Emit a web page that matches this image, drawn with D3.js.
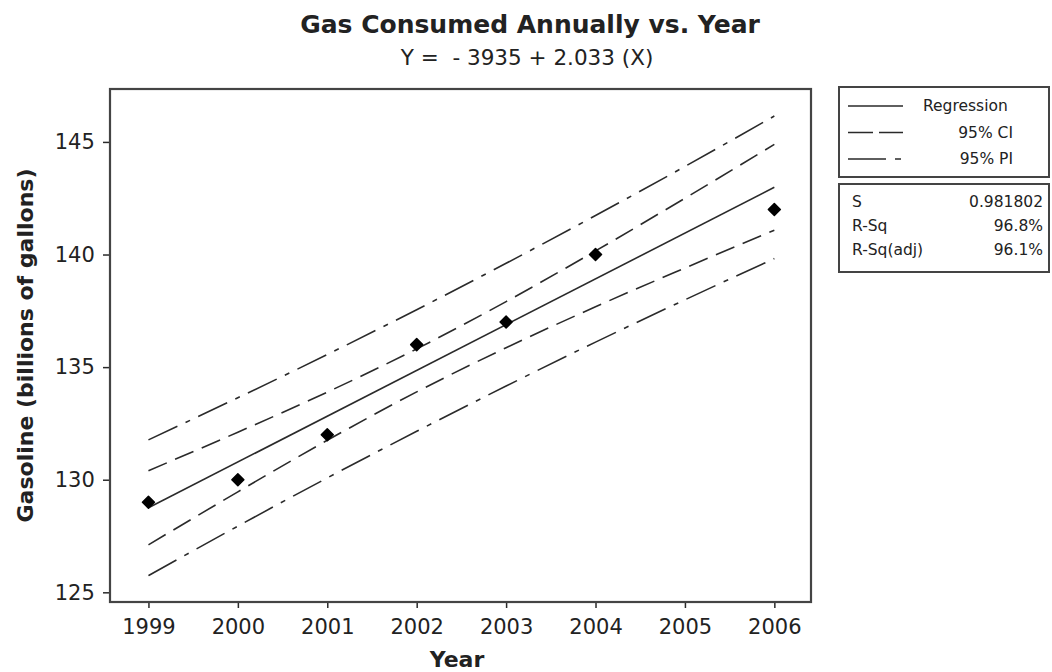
<!DOCTYPE html>
<html>
<head>
<meta charset="utf-8">
<script src="https://cdn.jsdelivr.net/npm/d3@7"></script>
<style>
  html, body { margin: 0; padding: 0; background: #fff; }
  svg { display: block; }
  text { font-family: "DejaVu Sans", sans-serif; fill: #222; }
</style>
</head>
<body>
<svg id="chart" width="1052" height="672"></svg>
<script>
// Observed gasoline consumption (billions of gallons) by year
const years = [1999, 2000, 2001, 2002, 2003, 2004, 2006];
const gasoline = [129, 130, 132, 136, 137, 140, 142];

// Fitted regression coefficients
const intercept = -3934.787;
const slope = 2.032787;

// Confidence and prediction band limits at each year
const bandYears = [1999, 2000, 2001, 2002, 2003, 2004, 2005, 2006];
const ciLower = [127.11, 129.46, 131.75, 133.90, 135.86, 137.68, 139.40, 141.08];
const ciUpper = [130.40, 132.11, 133.89, 135.81, 137.91, 140.16, 142.50, 144.89];
const piLower = [125.74, 127.94, 130.08, 132.15, 134.16, 136.11, 137.99, 139.82];
const piUpper = [131.77, 133.64, 135.56, 137.55, 139.61, 141.73, 143.91, 146.15];

// Axis ticks
const xTicks = [1999, 2000, 2001, 2002, 2003, 2004, 2005, 2006];
const yTicks = [125, 130, 135, 140, 145];

// Summary statistics
const statLabels = ["S", "R-Sq", "R-Sq(adj)"];
const statValues = ["0.981802", "96.8%", "96.1%"];
const legendLabels = ["Regression", "95% CI", "95% PI"];

const svg = d3.select("#chart");
const plot = { left: 110, right: 811, top: 89, bottom: 602 };
const ink = "#2a2a2a";

const x = d3.scaleLinear().domain([1998.57, 2006.41]).range([plot.left, plot.right]);
const y = d3.scaleLinear().domain([124.57, 147.35]).range([plot.bottom, plot.top]);

// Titles
svg.append("text").attr("x", 530).attr("y", 33).attr("text-anchor", "middle")
  .attr("font-size", 25).attr("font-weight", "bold").attr("fill", "#111")
  .text("Gas Consumed Annually vs. Year");
svg.append("text").attr("x", 527).attr("y", 65).attr("text-anchor", "middle")
  .attr("font-size", 21.5).attr("xml:space", "preserve")
  .text("Y =  - 3935 + 2.033 (X)");

// Axes
const xAxis = d3.axisBottom(x).tickValues(xTicks).tickFormat(d3.format("d")).tickSize(6).tickSizeOuter(0);
const yAxis = d3.axisLeft(y).tickValues(yTicks).tickFormat(d3.format("d")).tickSize(7).tickSizeOuter(0);

const gx = svg.append("g").attr("transform", `translate(0,${plot.bottom})`).call(xAxis);
const gy = svg.append("g").attr("transform", `translate(${plot.left},0)`).call(yAxis);
[gx, gy].forEach(g => {
  g.select(".domain").remove();
  g.selectAll(".tick line").attr("stroke", ink).attr("stroke-width", 1.5);
  g.selectAll(".tick text").attr("font-size", 21).attr("fill", "#222")
    .style("font-family", '"DejaVu Sans", sans-serif');
});
gx.selectAll(".tick text").attr("dy", "1.1em");
gy.selectAll(".tick text").attr("dx", "-0.25em");

// Axis titles
svg.append("text").attr("x", 457).attr("y", 667).attr("text-anchor", "middle")
  .attr("font-size", 22).attr("font-weight", "bold").attr("fill", "#111").text("Year");
svg.append("text").attr("transform", `translate(33,${(plot.top + plot.bottom) / 2}) rotate(-90)`)
  .attr("text-anchor", "middle").attr("font-size", 22).attr("font-weight", "bold").attr("fill", "#111")
  .text("Gasoline (billions of gallons)");

// Bands
const bandLine = d3.line().x(d => x(d[0])).y(d => y(d[1])).curve(d3.curveMonotoneX);
const styles = { ci: "20,9", pi: "32,9,5,9" };
[[ciLower, styles.ci], [ciUpper, styles.ci], [piLower, styles.pi], [piUpper, styles.pi]].forEach(([vals, dash]) => {
  svg.append("path")
    .attr("d", bandLine(bandYears.map((yr, i) => [yr, vals[i]])))
    .attr("fill", "none").attr("stroke", ink).attr("stroke-width", 1.6)
    .attr("stroke-dasharray", dash);
});

// Regression line
const xr = [bandYears[0], bandYears[bandYears.length - 1]];
svg.append("line")
  .attr("x1", x(xr[0])).attr("y1", y(intercept + slope * xr[0]))
  .attr("x2", x(xr[1])).attr("y2", y(intercept + slope * xr[1]))
  .attr("stroke", ink).attr("stroke-width", 1.6);

// Observations
const diamond = "M0,-6L6,0L0,6L-6,0Z";
svg.append("g").selectAll("path").data(years).join("path")
  .attr("transform", (d, i) => `translate(${x(d)},${y(gasoline[i])})`)
  .attr("d", diamond).attr("fill", "#000").attr("stroke", "#000")
  .attr("stroke-width", 1.5).attr("stroke-linejoin", "round");

// Plot frame
svg.append("rect").attr("x", plot.left).attr("y", plot.top)
  .attr("width", plot.right - plot.left).attr("height", plot.bottom - plot.top)
  .attr("fill", "none").attr("stroke", "#444").attr("stroke-width", 2.2);

// Legend box
const lg = svg.append("g");
lg.append("rect").attr("x", 839).attr("y", 87).attr("width", 210).attr("height", 90)
  .attr("fill", "#fff").attr("stroke", "#444").attr("stroke-width", 2);
const legendDash = ["none", "25,6", "38,9,6,20"];
legendLabels.forEach((lab, i) => {
  const yy = 106 + i * 26.5;
  lg.append("line").attr("x1", 848).attr("x2", 903).attr("y1", yy).attr("y2", yy)
    .attr("stroke", ink).attr("stroke-width", 1.5).attr("stroke-dasharray", legendDash[i]);
  lg.append("text").attr("x", i === 0 ? 923 : 1013).attr("y", yy + 5)
    .attr("text-anchor", i === 0 ? "start" : "end").attr("font-size", 15.5).text(lab);
});

// Statistics box
lg.append("rect").attr("x", 839).attr("y", 184).attr("width", 210).attr("height", 88)
  .attr("fill", "#fff").attr("stroke", "#444").attr("stroke-width", 2);
statLabels.forEach((lab, i) => {
  const yy = 207 + i * 24;
  lg.append("text").attr("x", 852).attr("y", yy).attr("font-size", 15.5).text(lab);
  lg.append("text").attr("x", 1043).attr("y", yy).attr("text-anchor", "end").attr("font-size", 15.5).text(statValues[i]);
});
</script>
</body>
</html>
